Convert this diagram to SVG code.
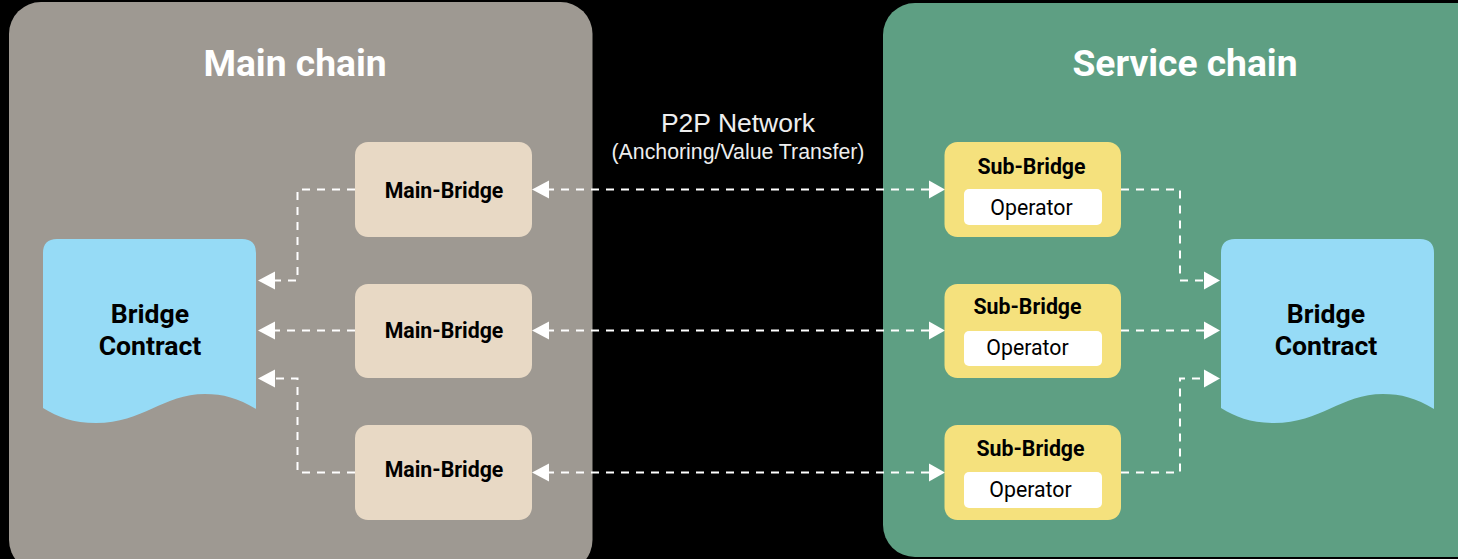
<svg xmlns="http://www.w3.org/2000/svg" width="1458" height="559" viewBox="0 0 1458 559">
<style>
.t{font-family:Roboto,"Liberation Sans",sans-serif;text-anchor:middle;fill:#000}
.b{font-weight:700;font-size:21.3px}
.c{font-weight:700;font-size:26.6px}
.o{font-size:21.3px}
.h{font-family:Roboto,"Liberation Sans",sans-serif;font-weight:700;font-size:37.2px;text-anchor:middle;fill:#fff}
.p{font-family:"Liberation Sans",Arial,sans-serif;text-anchor:middle;fill:#eee}
.mb{fill:#e8d9c5}.sb{fill:#f5e17d}.op{fill:#fff}.doc{fill:#96dbf6}
.d{fill:none;stroke:#fff;stroke-width:2;stroke-dasharray:8 7}
.a{fill:#fff}
</style>
<defs>
<path id="doc" d="M0 14Q0 0 14 0H199Q213 0 213 14V170C195 159 180 155 162 155C120 155 100 184 53 184C30 184 15 178 0 169Z"/>
<polygon id="al" points="0,0 17,-9 17,9"/>
<polygon id="ar" points="0,0 -16,-9 -16,9"/>
</defs>
<rect width="1458" height="559" fill="#000"/>
<g id="main-chain"><rect x="9" y="2" width="583.500" height="570" rx="32" fill="#9e9992"/><text class="h" x="295" y="76">Main chain</text></g>
<g id="service-chain"><rect x="883" y="3" width="610" height="554" rx="32" fill="#5e9f83"/><text class="h" x="1185" y="76">Service chain</text></g>
<text id="p2p-label" class="p"><tspan x="738" y="131.500" font-size="26.500">P2P Network</tspan><tspan x="738" y="159" font-size="21.300">(Anchoring/Value Transfer)</tspan></text>
<g id="connectors">
<path class="d" d="M355 189.500H297.500V280.500H272"/>
<path class="d" d="M355 330.500H272"/>
<path class="d" d="M355 472.500H297.500V378.500H272"/>
<path class="d" d="M1121 189.500H1180V280.500H1208"/>
<path class="d" d="M1121 330.500H1208"/>
<path class="d" d="M1121 472.500H1180V378.500H1208"/>
<path class="d" d="M546 189.500H932"/>
<path class="d" d="M546 330.500H932"/>
<path class="d" d="M546 472.500H932"/>
<use href="#al" class="a" x="258" y="280.500"/><use href="#al" class="a" x="258" y="330.500"/><use href="#al" class="a" x="258" y="378.500"/>
<use href="#ar" class="a" x="1220" y="280.500"/><use href="#ar" class="a" x="1220" y="330.500"/><use href="#ar" class="a" x="1220" y="378.500"/>
<use href="#al" class="a" x="532" y="189.500"/><use href="#al" class="a" x="532" y="330.500"/><use href="#al" class="a" x="532" y="472.500"/>
<use href="#ar" class="a" x="945" y="189.500"/><use href="#ar" class="a" x="945" y="330.500"/><use href="#ar" class="a" x="945" y="472.500"/>
</g>
<g id="contract-left"><use href="#doc" class="doc" x="43" y="239"/><text class="t c"><tspan x="150" y="322.500">Bridge</tspan><tspan x="150" y="354.500">Contract</tspan></text></g>
<g id="contract-right"><use href="#doc" class="doc" x="1221" y="239"/><text class="t c"><tspan x="1326" y="322.500">Bridge</tspan><tspan x="1326" y="354.500">Contract</tspan></text></g>
<g id="main-bridge-1"><rect class="mb" x="355" y="142" width="177" height="95" rx="13"/><text class="t b" x="444" y="198">Main-Bridge</text></g>
<g id="main-bridge-2"><rect class="mb" x="355" y="284" width="177" height="94" rx="13"/><text class="t b" x="444" y="338">Main-Bridge</text></g>
<g id="main-bridge-3"><rect class="mb" x="355" y="425" width="177" height="95" rx="13"/><text class="t b" x="444" y="477">Main-Bridge</text></g>
<g id="sub-bridge-1"><rect class="sb" x="944.500" y="142" width="176.500" height="95" rx="13"/><text class="t b" x="1031.500" y="174">Sub-Bridge</text><rect class="op" x="964" y="189" width="138" height="36" rx="5"/><text class="t o" x="1031.500" y="215">Operator</text></g>
<g id="sub-bridge-2"><rect class="sb" x="944.500" y="284" width="176.500" height="94" rx="13"/><text class="t b" x="1027.500" y="314">Sub-Bridge</text><rect class="op" x="964" y="331" width="138" height="35" rx="5"/><text class="t o" x="1027.500" y="355">Operator</text></g>
<g id="sub-bridge-3"><rect class="sb" x="944.500" y="425" width="176.500" height="95" rx="13"/><text class="t b" x="1030.500" y="456">Sub-Bridge</text><rect class="op" x="964" y="472" width="138" height="36" rx="5"/><text class="t o" x="1030.500" y="497">Operator</text></g>
</svg>
